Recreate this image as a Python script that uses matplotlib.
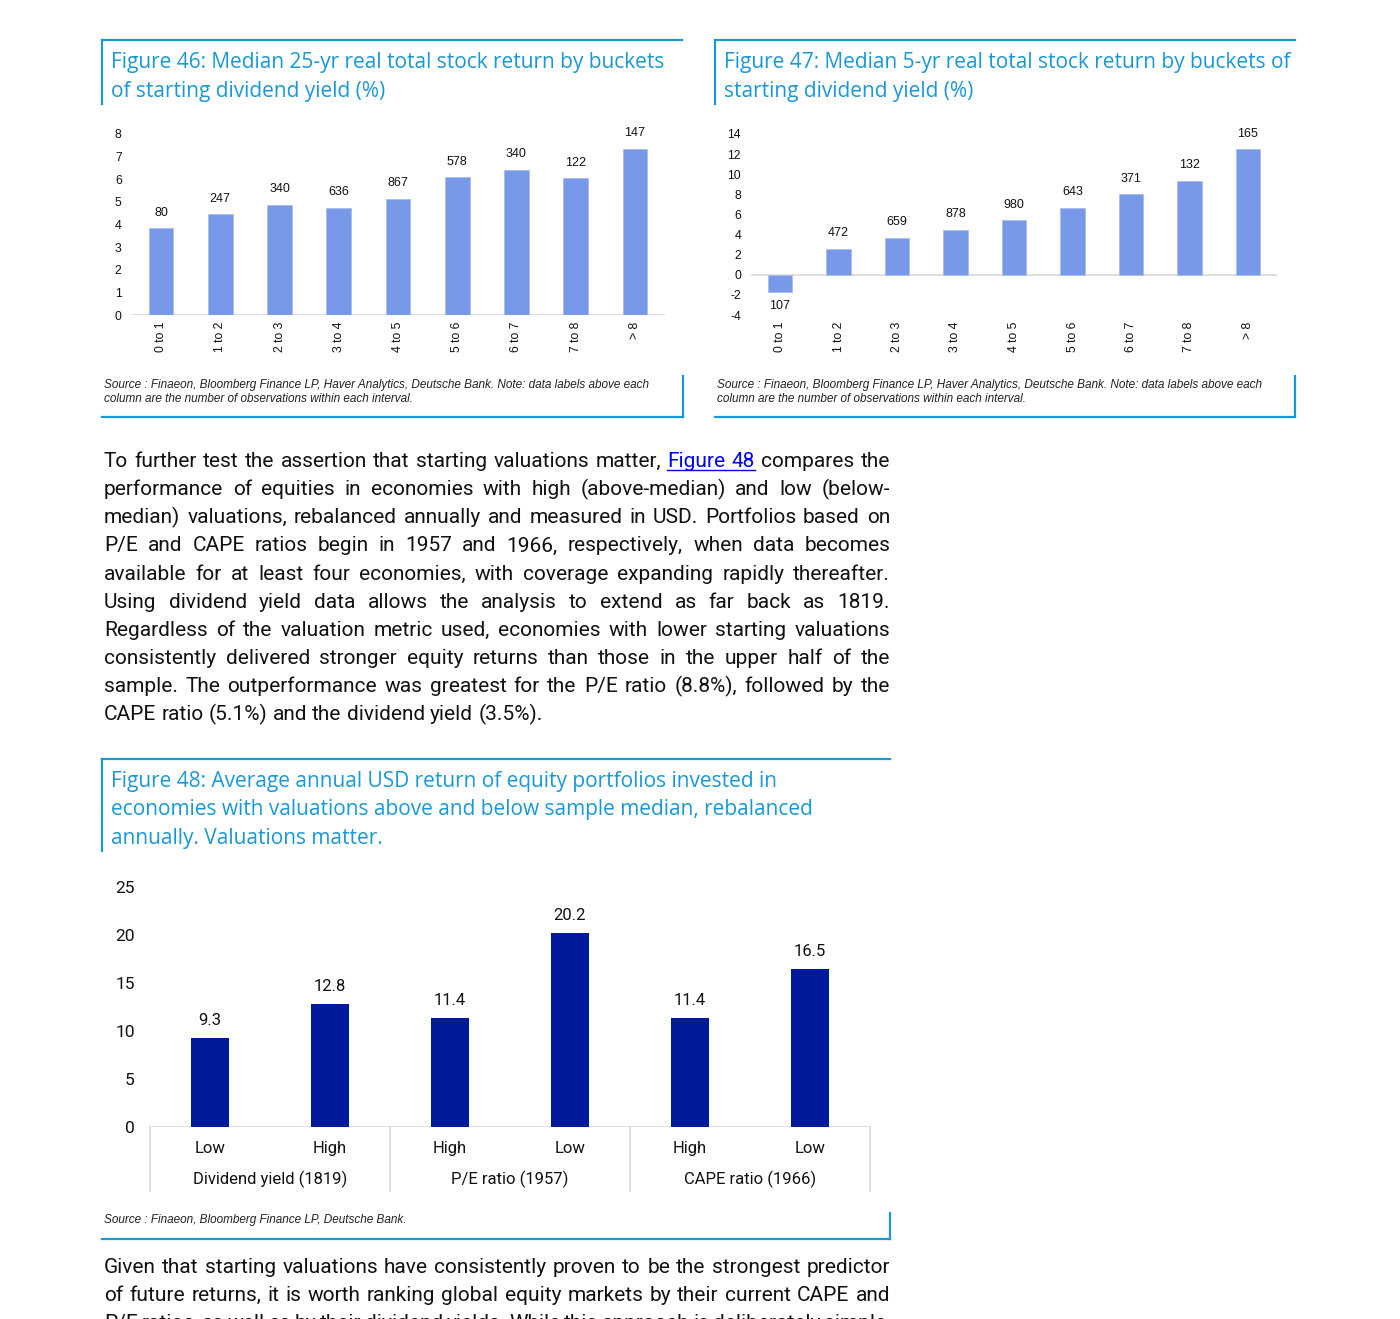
import matplotlib
matplotlib.use("Agg")
import matplotlib.pyplot as plt
from matplotlib import font_manager
from matplotlib.lines import Line2D
import matplotlib.transforms as mtransforms

# --- data ---
buckets = ['0 to 1', '1 to 2', '2 to 3', '3 to 4', '4 to 5', '5 to 6', '6 to 7', '7 to 8', '> 8']
ret_25yr = [3.83, 4.45, 4.87, 4.74, 5.14, 6.08, 6.42, 6.04, 7.35]
obs_25yr = [80, 247, 340, 636, 867, 578, 340, 122, 147]
ret_5yr = [-1.69, 2.55, 3.68, 4.44, 5.40, 6.62, 8.01, 9.34, 12.48]
obs_5yr = [107, 472, 659, 878, 980, 643, 371, 132, 165]

port_labels = ['Low', 'High', 'High', 'Low', 'High', 'Low']
port_groups = ['Dividend yield (1819)', 'P/E ratio (1957)', 'CAPE ratio (1966)']
port_returns = [9.3, 12.8, 11.4, 20.2, 11.4, 16.5]

title46 = ['Figure 46: Median 25-yr real total stock return by buckets',
           'of starting dividend yield (%)']
title47 = ['Figure 47: Median 5-yr real total stock return by buckets of',
           'starting dividend yield (%)']
title48 = ['Figure 48: Average annual USD return of equity portfolios invested in',
           'economies with valuations above and below sample median, rebalanced',
           'annually. Valuations matter.']
source_note = ['Source : Finaeon, Bloomberg Finance LP, Haver Analytics, Deutsche Bank. Note: data labels above each',
               'column are the number of observations within each interval.']
source48 = 'Source : Finaeon, Bloomberg Finance LP, Deutsche Bank.'

para1 = [
    'To further test the assertion that starting valuations matter, [Figure] [48] compares the',
    'performance of equities in economies with high (above-median) and low (below-',
    'median) valuations, rebalanced annually and measured in USD. Portfolios based on',
    'P/E and CAPE ratios begin in 1957 and 1966, respectively, when data becomes',
    'available for at least four economies, with coverage expanding rapidly thereafter.',
    'Using dividend yield data allows the analysis to extend as far back as 1819.',
    'Regardless of the valuation metric used, economies with lower starting valuations',
    'consistently delivered stronger equity returns than those in the upper half of the',
    'sample. The outperformance was greatest for the P/E ratio (8.8%), followed by the',
    'CAPE ratio (5.1%) and the dividend yield (3.5%).',
]
para2 = [
    'Given that starting valuations have consistently proven to be the strongest predictor',
    'of future returns, it is worth ranking global equity markets by their current CAPE and',
    'P/E ratios, as well as by their dividend yields. While this approach is deliberately simple,',
]

W, H = 1400, 1319
BLUE = '#1998D5'
BAR_LIGHT = '#7799E8'
BAR_DARK = '#001A9C'
GRID = '#D9D9D9'

names = {f.name for f in font_manager.fontManager.ttflist}
NARROW = 'Liberation Sans Narrow' if 'Liberation Sans Narrow' in names else 'Roboto'
SANS = 'Liberation Sans'
TITLE_FONT = 'Open Sans'


def fx(x):
    return x / W


def fy(y):
    return 1 - y / H


def rect(x0, y0, x1, y1):
    return [fx(x0), fy(y1), (x1 - x0) / W, (y1 - y0) / H]


fig = plt.figure(figsize=(14, 13.19), dpi=100)
renderer = fig.canvas.get_renderer()


def hline(x0, x1, y, lw=1.6):
    fig.add_artist(Line2D([fx(x0), fx(x1)], [fy(y), fy(y)], color=BLUE, lw=lw))


def vline(x, y0, y1, lw=1.6):
    fig.add_artist(Line2D([fx(x), fx(x)], [fy(y0), fy(y1)], color=BLUE, lw=lw))


def title_block(lines, x, y0, step):
    for i, s in enumerate(lines):
        fig.text(fx(x), fy(y0 + i * step), s, color=BLUE, fontsize=15,
                 family=TITLE_FONT, va='baseline', ha='left')


def justified(line, x0, x1, y, justify=True, size=15):
    words = line.split(' ')
    arts = []
    for w in words:
        link = w.startswith('[') and w.endswith(']')
        txt = w.strip('[]') if link else w
        t = fig.text(0, fy(y), txt, fontsize=size, family=NARROW, va='baseline',
                     ha='left', color='#0000EE' if link else '#111111')
        arts.append((t, link))
    widths = [t.get_window_extent(renderer).width for t, _ in arts]
    # plain word spacing for the last line of a paragraph
    a = fig.text(0, 0, 'a b', fontsize=size, family=NARROW)
    b = fig.text(0, 0, 'ab', fontsize=size, family=NARROW)
    space = a.get_window_extent(renderer).width - b.get_window_extent(renderer).width
    a.remove()
    b.remove()
    if justify and len(words) > 1:
        gap = (x1 - x0 - sum(widths)) / (len(words) - 1)
    else:
        gap = space
    x = x0
    prev_link_end = None
    for (t, link), wd in zip(arts, widths):
        t.set_x(fx(x))
        if link:
            start = x if prev_link_end is None else prev_link_end
            fig.add_artist(Line2D([fx(start), fx(x + wd)], [fy(y + 2.5), fy(y + 2.5)],
                                  color='#0000EE', lw=1.0))
            prev_link_end = x + wd
        else:
            prev_link_end = None
        x += wd + gap


# --- frames and titles ---
hline(102, 682, 40)
vline(102, 40, 104)
title_block(title46, 111, 68, 28.5)
hline(715, 1295, 40)
vline(715, 40, 104)
title_block(title47, 724, 68, 28.5)

for i, s in enumerate(source_note):
    fig.text(fx(104), fy(388 + i * 13.8), s, fontsize=8.5, style='italic',
             family=SANS, va='baseline', color='#222222')
    fig.text(fx(717), fy(388 + i * 13.8), s, fontsize=8.5, style='italic',
             family=SANS, va='baseline', color='#222222')
vline(683, 376, 417)
hline(102, 683, 416.5)
vline(1295, 376, 417)
hline(715, 1295, 416.5)

hline(102, 890, 759)
vline(102, 759, 851)
title_block(title48, 111, 787, 28.5)
fig.text(fx(104), fy(1223), source48, fontsize=8.5, style='italic',
         family=SANS, va='baseline', color='#222222')
vline(890, 1213, 1239)
hline(102, 890, 1238.5)


# --- small bar charts ---
def small_chart(pos, vals, obs, ylim, ticks):
    ax = fig.add_axes(pos)
    x = range(len(buckets))
    ax.bar(x, vals, width=0.42, color=BAR_LIGHT, edgecolor='#A9BEF0', linewidth=0.6, zorder=2)
    ax.axhline(0, color=GRID, lw=1.2, zorder=1)
    for xi, v, n in zip(x, vals, obs):
        if v >= 0:
            ax.annotate(str(n), (xi, v), xytext=(0, 7), textcoords='offset points',
                        ha='center', va='bottom', fontsize=9, family=SANS, color='#111111')
        else:
            ax.annotate(str(n), (xi, v), xytext=(0, -6), textcoords='offset points',
                        ha='center', va='top', fontsize=9, family=SANS, color='#111111')
    ax.set_xlim(-0.5, len(buckets) - 0.5)
    ax.set_ylim(*ylim)
    ax.set_yticks(ticks)
    ax.set_yticklabels([str(t) for t in ticks], fontsize=8.8, family=SANS)
    ax.set_xticks(list(x))
    ax.set_xticklabels(buckets, rotation=90, fontsize=8.8, family=SANS)
    ax.tick_params(axis='both', length=0, colors='#111111')
    ax.tick_params(axis='y', pad=7)
    ax.tick_params(axis='x', pad=5)
    for s in ax.spines.values():
        s.set_visible(False)
    ax.patch.set_alpha(0)
    return ax


small_chart(rect(131.4, 134, 664.6, 315), ret_25yr, obs_25yr, (0, 8), list(range(0, 9)))
small_chart(rect(750.75, 134, 1277.25, 315), ret_5yr, obs_5yr, (-4, 14), list(range(-4, 15, 2)))

# --- figure 48 ---
ax = fig.add_axes(rect(150, 887, 870, 1127))
xs = range(len(port_returns))
ax.bar(xs, port_returns, width=0.31, color=BAR_DARK, zorder=2)
for xi, v in zip(xs, port_returns):
    ax.annotate(f'{v:.1f}', (xi, v), xytext=(0, 7), textcoords='offset points',
                ha='center', va='bottom', fontsize=12, family=NARROW, color='#111111')
ax.set_xlim(-0.5, len(port_returns) - 0.5)
ax.set_ylim(0, 25)
ax.set_yticks(range(0, 26, 5))
ax.set_yticklabels([str(t) for t in range(0, 26, 5)], fontsize=12.5, family=NARROW)
ax.set_xticks(list(xs))
ax.set_xticklabels(port_labels, fontsize=12, family=NARROW)
ax.tick_params(axis='both', length=0, colors='#111111')
ax.tick_params(axis='y', pad=11)
ax.tick_params(axis='x', pad=10)
for s in ax.spines.values():
    s.set_visible(False)
ax.axhline(0, color=GRID, lw=1.2, zorder=1)
trans = mtransforms.blended_transform_factory(ax.transData, ax.transAxes)
per = len(port_returns) // len(port_groups)
for g in range(len(port_groups) + 1):
    xb = g * per - 0.5
    ax.plot([xb, xb], [0, -0.265], transform=trans, color=GRID, lw=1.2, clip_on=False)
for g, name in enumerate(port_groups):
    xc = g * per + (per - 1) / 2
    ax.text(xc, -0.2167, name, transform=trans, ha='center', va='center',
            fontsize=12, family=NARROW, color='#111111')

# --- body text ---
for i, line in enumerate(para1):
    justified(line, 104, 890, 467 + i * 28.15, justify=(i < len(para1) - 1))
# the page ends mid-paragraph: the third line runs off the bottom edge
for i, line in enumerate(para2):
    justified(line, 104, 890, 1273 + i * 28.15)

fig.savefig('out.png', dpi=100)
